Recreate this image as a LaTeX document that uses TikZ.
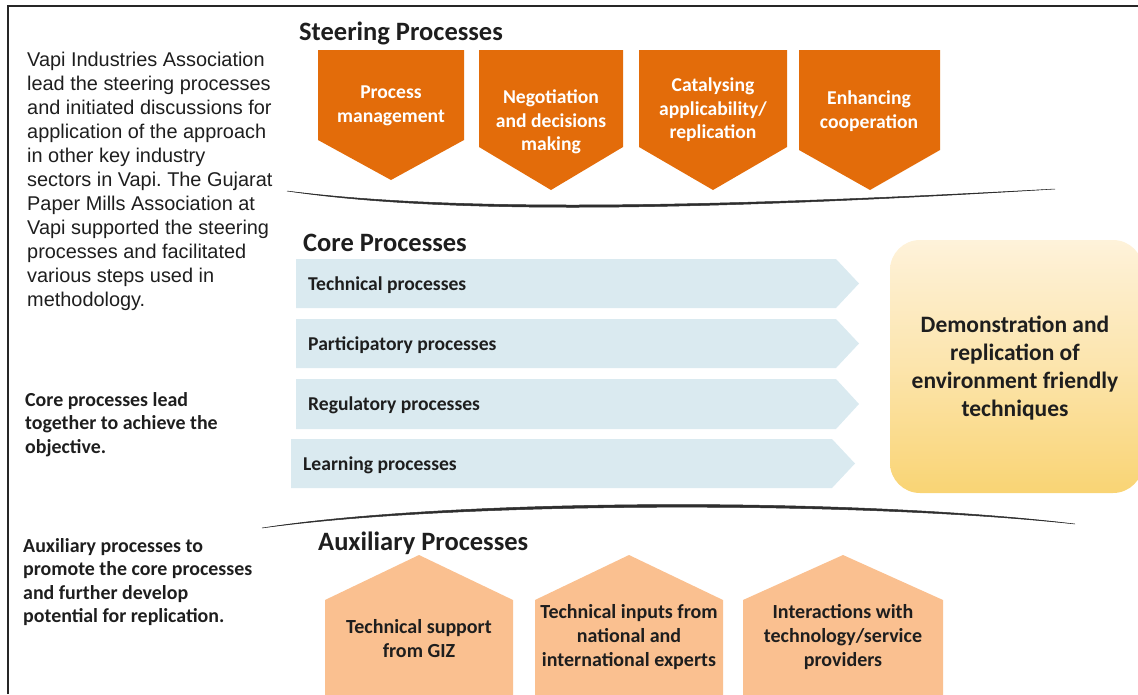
\documentclass[tikz,border=0pt]{standalone}
\usepackage{fontspec}
\setmainfont{Carlito}
\newfontfamily\arialf{Liberation Sans}
\frenchspacing
\definecolor{steer}{HTML}{E36C0A}
\definecolor{auxc}{HTML}{FAC090}
\definecolor{coreb}{HTML}{DAEAF0}
\definecolor{ytop}{HTML}{FEF2DA}
\definecolor{ybot}{HTML}{F9D474}
\definecolor{txt}{HTML}{1E1E1E}
\definecolor{linec}{HTML}{2E2E2E}
\begin{document}
\begin{tikzpicture}[x=1pt,y=-1pt,
  head/.style={font=\fontsize{26.5}{30}\selectfont\bfseries, anchor=west, inner sep=0pt, text=txt},
  steertxt/.style={font=\fontsize{19.6}{23.5}\selectfont\bfseries, text=white, align=center, inner sep=0pt},
  coretxt/.style={font=\fontsize{19.6}{23}\selectfont\bfseries, text=txt, anchor=west, inner sep=0pt},
  auxtxt/.style={font=\fontsize{20}{24}\selectfont\bfseries, text=txt, align=center, inner sep=0pt},
  goaltxt/.style={font=\fontsize{23.5}{28}\selectfont\bfseries, text=txt, align=center, inner sep=0pt},
  leftp/.style={font=\arialf\fontsize{19.9}{24}\selectfont, text=txt, align=left, anchor=north west, inner sep=0pt},
  leftb/.style={font=\fontsize{19.9}{23.5}\selectfont\bfseries, text=txt, align=left, anchor=north west, inner sep=0pt},
  divider/.style={fill=linec, draw=linec, line width=0.5pt}
]
\useasboundingbox (0,0) rectangle (1138,694);
% frame
\draw[line width=2.5pt, black!85] (8,694) -- (8,6) -- (1138,6);

% headers
\node[head] (hs) at (299,33) {Steering Processes};
\node[head] (hc) at (303,243) {Core Processes};
\node[head] (ha) at (318,543) {Auxiliary Processes};

% steering boxes
\fill[steer] (318,50) -- (464,50) -- (464,140) -- (391,180) -- (318,140) -- cycle;
\fill[steer] (479,50) -- (623,50) -- (623,147) -- (551,190) -- (479,147) -- cycle;
\fill[steer] (639,50) -- (787,50) -- (787,147) -- (713,190) -- (639,147) -- cycle;
\fill[steer] (799,50) -- (940,50) -- (940,150) -- (870,190) -- (799,150) -- cycle;
\node[steertxt] (s1) at (391,106) {Process\\management};
\node[steertxt] (s2) at (551,122) {Negotiation\\and decisions\\making};
\node[steertxt] (s3) at (713,110) {Catalysing\\applicability/\\replication};
\node[steertxt] (s4) at (869,111) {Enhancing\\cooperation};

% dividers
\fill[divider] (287,191) .. controls (430,209) and (650,211) .. (1055,189)
  .. controls (650,214) and (430,212) .. cycle;
\fill[divider] (262,528) .. controls (450,498.5) and (850,496.5) .. (1075,524)
  .. controls (850,500) and (450,502) .. cycle;

% core arrows
\fill[coreb] (296,259) -- (836,259) -- (859,283.5) -- (836,308) -- (296,308) -- cycle;
\fill[coreb] (296,319) -- (836,319) -- (859,343.5) -- (836,368) -- (296,368) -- cycle;
\fill[coreb] (296,379) -- (836,379) -- (859,404) -- (836,429) -- (296,429) -- cycle;
\fill[coreb] (291,439) -- (832,439) -- (855,463.5) -- (832,488) -- (291,488) -- cycle;
\node[coretxt] (c1) at (308,285) {Technical processes};
\node[coretxt] (c2) at (308,345) {Participatory processes};
\node[coretxt] (c3) at (308,405) {Regulatory processes};
\node[coretxt] (c4) at (303,465) {Learning processes};

% goal box
\shade[top color=ytop, bottom color=ybot, middle color=ytop!55!ybot, rounded corners=30pt]
  (890,240) rectangle (1143,493);
\node[goaltxt] (goal) at (1015,368) {Demonstration and\\replication of\\environment friendly\\techniques};

% auxiliary boxes
\fill[auxc] (325,700) -- (325,600) -- (419,555) -- (513,600) -- (513,700) -- cycle;
\fill[auxc] (535,700) -- (535,600) -- (629,555) -- (723,600) -- (723,700) -- cycle;
\fill[auxc] (743,700) -- (743,600) -- (843,555) -- (943,600) -- (943,700) -- cycle;
\node[auxtxt] (a1) at (419,639) {Technical support\\from GIZ};
\node[auxtxt] (a2) at (629,637) {Technical inputs from\\national and\\international experts};
\node[auxtxt] (a3) at (843,637) {Interactions with\\technology/service\\providers};

% left texts
\node[leftp] (p1) at (27,52) {Vapi Industries Association\\lead the steering processes\\and initiated discussions for\\application of the approach\\in other key industry\\sectors in Vapi. The Gujarat\\Paper Mills Association at\\Vapi supported the steering\\processes and facilitated\\various steps used in\\methodology.};
\node[leftb] (p2) at (25,392) {Core processes lead\\together to achieve the\\objective.};
\node[leftb] (p3) at (23,538) {Auxiliary processes to\\promote the core processes\\and further develop\\potential for replication.};
\end{tikzpicture}
\end{document}
